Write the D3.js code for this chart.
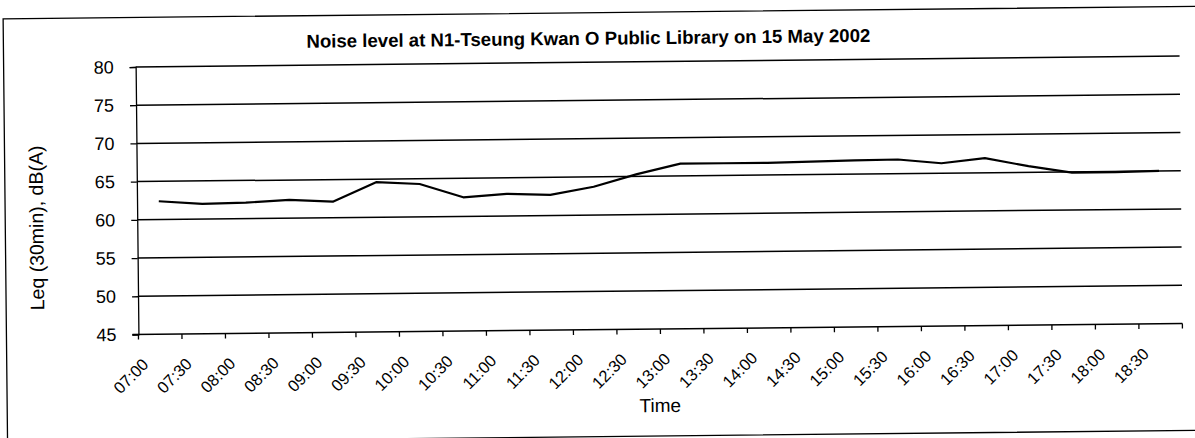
<!DOCTYPE html>
<html lang="en">
<head>
<meta charset="UTF-8">
<title>Noise level at N1-Tseung Kwan O Public Library</title>
<script src="https://d3js.org/d3.v7.min.js"></script>
<style>
  body { margin: 0; background: #fff; }
  svg { display: block; font-family: "Liberation Sans", Arial, sans-serif; }
</style>
</head>
<body>
<svg width="1195" height="438"></svg>
<script>
// data
const times = ["07:00","07:30","08:00","08:30","09:00","09:30","10:00","10:30","11:00","11:30","12:00","12:30",
               "13:00","13:30","14:00","14:30","15:00","15:30","16:00","16:30","17:00","17:30","18:00","18:30"];
const leq = [62.4, 62.0, 62.1, 62.4, 62.1, 64.6, 64.3, 62.5, 62.9, 62.7, 63.7, 65.3,
             66.6, 66.6, 66.6, 66.7, 66.8, 66.85, 66.3, 66.9, 65.8, 64.9, 64.9, 65.0];
const yTicks = [45, 50, 55, 60, 65, 70, 75, 80];

const svg = d3.select("svg");
// the scan is slightly tilted, so everything sits in one rotated group
const g = svg.append("g").attr("transform", "rotate(-0.6, 659, 195)");

const plotLeft = 137, plotRight = 1181, plotTop = 61.5, plotBottom = 329;

const x = d3.scaleBand().domain(times).range([plotLeft, plotRight]);
const y = d3.scaleLinear().domain([45, 80]).range([plotBottom, plotTop]);

// outer chart border
g.append("rect")
  .attr("x", 5).attr("y", 12).attr("width", 1200).attr("height", 424)
  .attr("fill", "none").attr("stroke", "#000").attr("stroke-width", 1.3);

// title
g.append("text")
  .attr("x", 590).attr("y", 44)
  .attr("text-anchor", "middle")
  .attr("font-size", "18.6px").attr("font-weight", "bold")
  .text("Noise level at N1-Tseung Kwan O Public Library on 15 May 2002");

// gridlines
g.selectAll(".grid").data(yTicks.filter(d => d > 45)).enter().append("line")
  .attr("x1", plotLeft).attr("x2", plotRight)
  .attr("y1", d => y(d)).attr("y2", d => y(d))
  .attr("stroke", "#000").attr("stroke-width", 1.5);

// y axis
const yAxis = g.append("g")
  .attr("transform", `translate(${plotLeft},0)`)
  .call(d3.axisLeft(y).tickValues(yTicks).tickSize(6).tickPadding(16));
yAxis.select(".domain").attr("stroke-width", 1.3);
yAxis.selectAll(".tick line").attr("stroke-width", 1.3);
yAxis.selectAll("text").attr("font-size", "18px").attr("font-family", "Liberation Sans, Arial, sans-serif").attr("fill", "#000");

// x axis: ticks at band edges, labels rotated
const xAxis = g.append("g").attr("transform", `translate(0,${plotBottom})`);
xAxis.append("line")
  .attr("x1", plotLeft - 6).attr("x2", plotRight).attr("y1", 0).attr("y2", 0)
  .attr("stroke", "#000").attr("stroke-width", 1.5);
xAxis.selectAll(".xt").data(times.concat(["end"])).enter().append("line")
  .attr("x1", (d, i) => plotLeft + i * x.step()).attr("x2", (d, i) => plotLeft + i * x.step())
  .attr("y1", 0).attr("y2", 5)
  .attr("stroke", "#000").attr("stroke-width", 1.3);
xAxis.selectAll(".xl").data(times).enter().append("text")
  .attr("transform", d => `translate(${x(d) + x.bandwidth() / 2 - 11},${31}) rotate(-45)`)
  .attr("text-anchor", "end")
  .attr("font-size", "16.5px")
  .text(d => d);

// axis titles
g.append("text")
  .attr("x", 658).attr("y", 412)
  .attr("text-anchor", "middle").attr("font-size", "19px")
  .text("Time");
g.append("text")
  .attr("transform", "translate(43,221.5) rotate(-90)")
  .attr("text-anchor", "middle").attr("font-size", "19.5px")
  .text("Leq (30min), dB(A)");

// data line
const line = d3.line()
  .x((d, i) => x(times[i]) + x.bandwidth() / 2)
  .y(d => y(d));
g.append("path")
  .datum(leq)
  .attr("d", line)
  .attr("fill", "none")
  .attr("stroke", "#000")
  .attr("stroke-width", 2.2)
  .attr("stroke-linejoin", "round");
</script>
</body>
</html>
